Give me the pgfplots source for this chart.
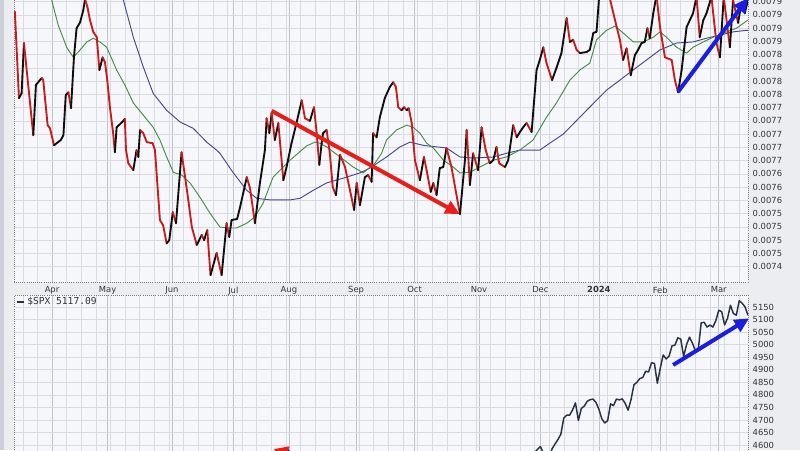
\documentclass[border=0pt]{standalone}
\usepackage{fontspec}
\setmainfont{DejaVu Sans}
\newfontfamily\monofont{DejaVu Sans Mono}
\usepackage{pgfplots}
\pgfplotsset{compat=1.18}
\usetikzlibrary{arrows.meta}

\definecolor{bg}{RGB}{236,237,241}
\definecolor{leftband}{RGB}{205,208,215}
\definecolor{plotbg}{RGB}{246,247,250}
\definecolor{gridmaj}{RGB}{192,194,202}
\definecolor{gridmin}{RGB}{218,219,226}
\definecolor{upblack}{RGB}{15,15,15}
\definecolor{dnred}{RGB}{200,28,28}
\definecolor{magreen}{RGB}{70,140,70}
\definecolor{mablue}{RGB}{70,70,150}
\definecolor{arrred}{RGB}{232,30,25}
\definecolor{arrblue}{RGB}{25,30,225}
\definecolor{spxline}{RGB}{40,50,68}
\definecolor{txt}{RGB}{50,50,55}
\definecolor{frame}{RGB}{120,120,128}

\pgfplotsset{
  panel/.style={
    scale only axis, width=550.5pt,
    xmin=0, xmax=251,
    axis background/.style={fill=plotbg},
    axis line style={frame, densely dotted, line width=0.6pt},
    xmajorgrids, xminorgrids, ymajorgrids,
    major x grid style={gridmaj, line width=0.5pt},
    minor x grid style={gridmin, line width=0.4pt},
    major y grid style={gridmin, line width=0.4pt},
    xtick={13,32,54,75,94,117,137,159,180,200,221,241},
    minor xtick={3,8,...,248},
    yticklabel pos=right,
    major tick length=0pt, minor tick length=0pt,
    tick label style={font=\fontsize{6.3}{7}\selectfont, text=txt},
    /pgf/number format/assume math mode=true,
    /pgf/number format/1000 sep={},
  },
}

\begin{document}
\begin{tikzpicture}[x=0.75pt,y=0.75pt]
\useasboundingbox (0,0) rectangle (800,450);
\clip (0,0) rectangle (800,450);
\fill[bg] (0,0) rectangle (800,450);
\fill[leftband] (0,0) rectangle (4,450);

% upper panel
\begin{axis}[panel, at={(10.5pt,126pt)}, anchor=south west, height=226.5pt,
  ymin=7396.1, ymax=7965.9,
  ytick={7425,7450,...,7925},
  yticklabels={0.0074,0.0075,0.0075,0.0075,0.0075,0.0076,0.0076,0.0076,
    0.0077,0.0077,0.0077,0.0077,0.0077,0.0078,0.0078,0.0078,0.0078,
    0.0079,0.0079,0.0079,0.0079},
  xticklabels={Apr,May,Jun,Jul,Aug,Sep,Oct,Nov,Dec,\textbf{2024},Feb,Mar},
]
% slow average
\addplot[mablue, line width=0.7pt] coordinates {
(32.8,7985) (37.4,7928) (40.8,7858) (44.2,7802) (47.6,7752) (52.2,7720)
(56.8,7698) (61.3,7686) (65.9,7660) (69.3,7645) (70.4,7639) (75.0,7602)
(79.6,7569) (83.0,7554) (87.5,7551) (94.4,7551) (97.8,7554) (102.3,7569)
(106.9,7583) (112.6,7592) (118.3,7602) (121.7,7611) (127.4,7632) (132.0,7651)
(135.4,7660) (139.9,7654) (144.5,7651) (147.9,7649) (152.5,7632) (157.0,7630)
(163.9,7632) (168.4,7639) (173.0,7645) (179.8,7645) (183.2,7658) (187.8,7675)
(195.8,7720) (202.6,7758) (207.2,7777) (211.7,7796) (216.3,7815) (220.9,7834)
(226.6,7847) (232.2,7849) (236.8,7856) (241.4,7862) (245.9,7868) (250.5,7871)
(251,7871)
};
% fast average
\addplot[magreen, line width=0.7pt] coordinates {
(11.0,7980) (12.9,7928) (15.1,7881) (18.0,7839) (20.3,7820) (22.6,7834)
(24.9,7849) (27.1,7856) (29.4,7849) (31.7,7839) (35.1,7796) (37.9,7768)
(40.8,7734) (44.2,7711) (47.6,7688) (49.9,7664) (52.2,7632) (54.5,7603)
(57.3,7598) (60.2,7583) (63.6,7556) (67.0,7526) (70.4,7500) (72.7,7498)
(76.1,7498) (79.6,7507) (82.4,7519) (85.2,7545) (88.6,7594) (94.4,7626)
(100.1,7653) (102.9,7660) (104.6,7658) (106.9,7651) (111.5,7632) (116.0,7613)
(119.4,7602) (123.4,7620) (125.7,7639) (127.4,7664) (130.8,7683) (134.3,7692)
(136.5,7688) (138.8,7677) (141.1,7658) (143.4,7649) (146.8,7626) (150.2,7613)
(152.5,7602) (155.9,7603) (159.3,7613) (163.9,7626) (168.4,7632) (173.0,7645)
(177.5,7664) (182.1,7707) (185.5,7734) (190.1,7777) (193.5,7796) (196.9,7809)
(199.2,7853) (202.6,7871) (205.5,7879) (208.3,7866) (211.8,7849) (215.2,7849)
(218.6,7858) (220.9,7868) (223.1,7858) (226.6,7839) (230.0,7828) (232.2,7839)
(235.7,7849) (239.1,7858) (243.7,7868) (247.1,7875) (250.9,7890)
};
% price, black when up, red when down
\addplot[mesh, point meta=explicit, shader=flat corner, line width=1.4pt,
  line cap=round, line join=round,
  colormap={updn}{color=(dnred) color=(upblack)}]
  table[x=t, y=v, meta=m] {
t v m
0.3 7906 0
1.7 7743 1
2.6 7752 1
3.4 7847 0
6.6 7673 1
7.5 7768 1
9.5 7781 0
10.0 7777 0
11.5 7692 0
12.3 7686 0
13.7 7654 1
14.6 7658 1
16.0 7664 1
16.9 7673 1
17.7 7749 1
18.6 7754 0
19.5 7724 1
20.5 7820 1
21.4 7875 1
22.6 7886 1
23.7 7909 1
24.3 7930 0
25.1 7915 0
26.0 7890 0
27.1 7868 0
28.3 7858 0
29.2 7796 1
30.3 7820 0
31.1 7811 0
31.9 7777 0
32.8 7726 0
33.9 7677 0
34.5 7641 1
35.1 7688 1
37.4 7700 1
37.9 7704 0
38.3 7645 0
39.1 7620 0
40.8 7607 1
41.9 7645 0
42.5 7632 1
43.1 7683 0
44.2 7677 0
45.4 7660 0
47.4 7658 0
48.2 7645 0
49.9 7513 0
51.0 7503 0
52.2 7469 1
53.1 7475 1
54.3 7528 0
55.4 7507 1
57.3 7641 0
58.5 7594 0
59.6 7551 0
60.8 7500 0
62.5 7466 1
64.2 7485 0
65.0 7475 1
66.1 7494 0
67.2 7409 1
69.3 7451 0
71.0 7409 1
72.7 7507 0
73.6 7481 1
74.4 7513 1
76.3 7515 1
77.3 7537 1
79.6 7594 0
80.7 7573 0
82.4 7507 1
84.1 7583 1
85.8 7645 1
86.4 7705 0
87.3 7677 1
88.1 7715 0
89.2 7664 1
90.4 7696 0
92.1 7588 1
93.2 7613 1
94.9 7658 1
96.6 7696 1
98.4 7739 0
99.5 7705 0
101.2 7700 1
102.6 7726 0
103.5 7677 0
104.4 7617 1
105.2 7658 1
105.7 7677 1
106.9 7683 0
108.0 7639 0
109.0 7575 0
110.1 7560 1
111.5 7636 0
113.2 7613 0
114.9 7569 0
116.3 7532 1
117.2 7583 0
118.3 7541 1
120.0 7594 1
121.1 7598 0
122.3 7585 1
122.8 7677 0
124.0 7669 1
125.1 7707 1
126.8 7743 1
128.5 7764 1
129.7 7773 0
130.6 7764 0
131.4 7726 0
132.5 7720 1
133.4 7726 0
134.3 7720 1
135.0 7724 0
136.0 7696 0
136.8 7645 0
137.1 7626 0
138.8 7588 1
140.2 7632 0
141.1 7607 0
142.5 7566 1
143.4 7583 0
144.5 7560 1
145.6 7611 1
146.8 7613 1
147.9 7649 0
149.6 7613 0
152.5 7524 1
154.2 7626 1
154.8 7683 0
155.9 7579 1
157.0 7639 0
158.7 7607 1
159.9 7688 0
161.3 7645 0
162.7 7620 1
163.9 7626 1
165.0 7651 0
165.9 7620 0
167.9 7613 1
169.0 7626 1
170.7 7692 0
171.9 7669 1
173.0 7679 1
174.1 7688 1
175.3 7696 0
177.0 7679 1
178.7 7796 1
179.8 7815 1
181.0 7839 0
182.1 7809 0
184.0 7777 1
185.5 7800 1
187.2 7828 1
189.0 7894 0
190.1 7849 1
191.2 7853 0
192.4 7834 0
193.5 7828 1
195.8 7830 1
196.9 7834 1
198.1 7866 1
199.2 7868 1
200.3 7950 1
202.1 7960 0
203.8 7930 0
206.1 7877 0
207.2 7853 0
208.3 7815 1
209.5 7837 0
210.9 7786 1
212.3 7824 1
213.4 7834 1
214.6 7847 1
215.7 7849 1
216.6 7875 0
217.4 7856 1
218.6 7903 1
219.7 7937 0
220.9 7877 0
222.6 7820 0
224.9 7815 0
226.0 7777 0
227.1 7754 1
228.3 7796 1
230.0 7877 1
231.1 7890 1
232.2 7903 1
233.4 7934 0
234.5 7858 1
235.7 7890 1
236.8 7903 1
238.5 7934 0
240.2 7847 0
241.4 7820 1
242.7 7934 0
244.8 7839 1
245.9 7928 0
247.6 7885 1
248.8 7924 0
249.9 7903 1
251.0 7928 0
};
% trend arrows
\addplot[arrred, line width=3pt, -{Triangle[length=11pt,width=10pt]}]
  coordinates {(88.1,7719) (152.5,7524)};
\addplot[arrblue, line width=3pt, -{Triangle[length=11pt,width=10pt]}]
  coordinates {(227.1,7755) (251,7932)};
\end{axis}

% lower panel
\begin{axis}[panel, at={(10.5pt,116.25pt)}, anchor=north west, height=138.75pt,
  ymin=4460.8, ymax=5197.8,
  ytick={4600,4650,...,5150},
  xmajorticks=false,
]
\addplot[spxline, line width=1.1pt, line join=round] coordinates {
(0,3892) (5,3960) (10,4027) (13,4124) (18,4105) (23,4151) (28,4071) (32,4169)
(37,4138) (42,4124) (47,4192) (52,4151) (55,4221) (60,4298) (65,4409) (70,4381)
(75,4455) (80,4439) (85,4510) (88,4554) (90,4567) (91,4537) (92,4582) (93,4589)
(94,4577) (95,4513) (98,4478) (103,4464) (108,4370) (113,4406) (118,4515)
(123,4457) (128,4450) (133,4320) (138,4288) (143,4308) (148,4327) (153,4224)
(158,4117) (163,4358) (168,4415) (173,4514) (177,4559)
(180,4594) (181,4569) (182,4567) (183,4549) (184,4585) (185,4604) (186,4622)
(187,4643) (188,4707) (189,4719) (190,4719) (191,4740) (192,4768) (193,4698)
(194,4746) (195,4755) (196,4774) (197,4781) (198,4783) (199,4770) (200,4743)
(201,4705) (202,4688) (203,4697) (204,4764) (205,4757) (206,4783) (207,4780)
(208,4784) (209,4766) (210,4739) (211,4781) (212,4840) (213,4850) (214,4865)
(215,4869) (216,4894) (217,4891) (218,4928) (219,4925) (220,4846) (221,4906)
(222,4959) (223,4943) (224,4954) (225,4995) (226,4998) (227,5027) (228,5022)
(229,4953) (230,5001) (231,5030) (232,5006) (233,4976) (234,4982) (235,5087)
(236,5089) (237,5070) (238,5078) (239,5070) (240,5096) (241,5137) (242,5131)
(243,5079) (244,5105) (245,5157) (246,5124) (247,5117) (248,5175) (249,5165)
(250,5150) (251,5117)
};
\addplot[arrred, line width=3pt, -{Triangle[length=11pt,width=10pt]}]
  coordinates {(70,4380) (94.4,4596)};
\addplot[arrblue, line width=3pt, -{Triangle[length=11pt,width=10pt]}]
  coordinates {(225.4,4919) (251.4,5105)};
\end{axis}

\draw[spxline, line width=1.6pt] (17,148) -- (24,148);
\node[anchor=west, inner sep=0pt, text=txt,
  font=\monofont\fontsize{7.2}{8}\selectfont] at (27,148) {\$SPX 5117.09};
\end{tikzpicture}
\end{document}
